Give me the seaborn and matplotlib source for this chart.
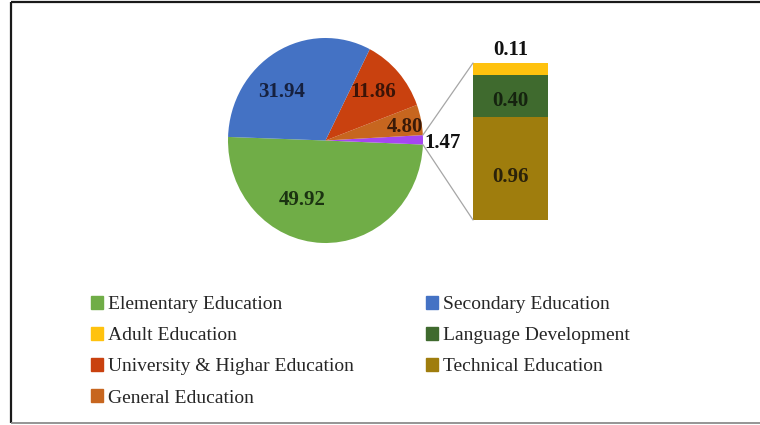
import numpy as np
import matplotlib
matplotlib.use("Agg")
import matplotlib.pyplot as plt
from matplotlib.patches import Patch, ConnectionPatch
import seaborn as sns

# Share of education spending by sector (%)
pie_sectors = ["Elementary Education", "General Education",
               "University & Highar Education", "Secondary Education"]
pie_values = [49.92, 4.80, 11.86, 31.94]
pie_colors = ["#70AD47", "#C7661F", "#C9410F", "#4472C4"]

# Small sectors grouped into the "other" slice and broken out in the bar
bar_sectors = ["Technical Education", "Language Development", "Adult Education"]
bar_values = [0.96, 0.40, 0.11]
bar_colors = ["#9F7D0D", "#3F6A2E", "#FFC20E"]
other_color = "#A546F2"

legend_order = ["Elementary Education", "Adult Education",
                "University & Highar Education", "General Education",
                "Secondary Education", "Language Development",
                "Technical Education"]

sns.set_theme(style="white")
plt.rcParams["font.family"] = ["Liberation Serif", "DejaVu Serif"]

W, H = 760, 425
fig = plt.figure(figsize=(W / 100, H / 100), dpi=100)
fig.patch.set_facecolor("white")


def px_axes(x0, y0, x1, y1):
    """Axes placed by pixel box (top-left origin)."""
    return fig.add_axes([x0 / W, 1 - y1 / H, (x1 - x0) / W, (y1 - y0) / H])


# ---- pie -------------------------------------------------------------
other_total = round(sum(bar_values), 2)
wedge_values = [pie_values[0], other_total] + pie_values[1:]
wedge_colors = [pie_colors[0], other_color] + pie_colors[1:]

pie_ax = px_axes(228, 38, 423, 243)
wedges, _ = pie_ax.pie(wedge_values, colors=wedge_colors, startangle=178,
                       counterclock=True, radius=1,
                       wedgeprops=dict(linewidth=0))
pie_ax.set_aspect("auto")
pie_ax.set_xlim(-1, 1)
pie_ax.set_ylim(-1, 1)
pie_ax.axis("off")

# ---- stacked breakdown bar ------------------------------------------
bar_ax = px_axes(473, 63, 548, 220)
cum = np.cumsum(bar_values)
for i in reversed(range(len(bar_values))):
    sns.barplot(x=[0], y=[cum[i]], color=bar_colors[i], width=1,
                saturation=1, linewidth=0, ax=bar_ax)
bar_ax.set_xlim(-0.5, 0.5)
bar_ax.set_ylim(0, cum[-1])
bar_ax.axis("off")

label_font = dict(fontsize=15, fontweight="bold", ha="center", va="center")
bar_text_colors = ["#2B220A", "#15230F", "#111111"]
bar_text_offsets = [-8, -5]
for i, v in enumerate(bar_values[:2]):
    bar_ax.annotate(f"{v:.2f}", xy=(0, cum[i] - v / 2),
                    xytext=(0, bar_text_offsets[i]), textcoords="offset pixels",
                    color=bar_text_colors[i], **label_font)
bar_ax.annotate(f"{bar_values[2]:.2f}", xy=(0, cum[-1]), xytext=(0, 13),
                textcoords="offset pixels", color=bar_text_colors[2],
                annotation_clip=False, **label_font)

# connector lines from the "other" wedge to the bar
other = wedges[1]
for theta, ybar in [(other.theta2, cum[-1]), (other.theta1, 0)]:
    t = np.deg2rad(theta)
    con = ConnectionPatch(xyA=(np.cos(t), np.sin(t)), coordsA=pie_ax.transData,
                          xyB=(-0.5, ybar), coordsB=bar_ax.transData,
                          color="#A6A6A6", linewidth=0.9)
    fig.add_artist(con)

# ---- overlay for pie labels and frame -------------------------------
ov = fig.add_axes([0, 0, 1, 1])
ov.set_xlim(0, W)
ov.set_ylim(H, 0)
ov.axis("off")
ov.patch.set_alpha(0)

pie_label_xy = [(302, 200), (405, 127), (373, 92), (282, 92)]
pie_label_colors = ["#1B3311", "#3A1A08", "#3B1407", "#16213F"]
for v, (x, y), c in zip(pie_values, pie_label_xy, pie_label_colors):
    ov.text(x, y, f"{v:.2f}", color=c, **label_font)
ov.text(443, 143, f"{other_total:.2f}", color="#111111", **label_font)

ov.plot([11, 11], [2, 423], color="#1A1A1A", lw=1.6, clip_on=False,
        solid_capstyle="butt")
ov.plot([11, W], [2, 2], color="#1A1A1A", lw=1.6, clip_on=False,
        solid_capstyle="butt")
ov.plot([11, W], [423, 423], color="#8C8C8C", lw=1.3, clip_on=False,
        solid_capstyle="butt")

# ---- legend ----------------------------------------------------------
color_of = dict(zip(pie_sectors + bar_sectors, pie_colors + bar_colors))
leg_kw = dict(loc="upper left", frameon=False, borderpad=0, borderaxespad=0,
              handlelength=0.62, handleheight=0.62, handletextpad=0.25,
              labelspacing=0.72, fontsize=14)
col1 = [Patch(color=color_of[s], label=s) for s in legend_order[:4]]
col2 = [Patch(color=color_of[s], label=s) for s in legend_order[4:]]
fig.legend(handles=col1, bbox_to_anchor=(91 / W, 1 - 296 / H), **leg_kw)
fig.legend(handles=col2, bbox_to_anchor=(426 / W, 1 - 296 / H), **leg_kw)

fig.savefig("out.png", dpi=100)
